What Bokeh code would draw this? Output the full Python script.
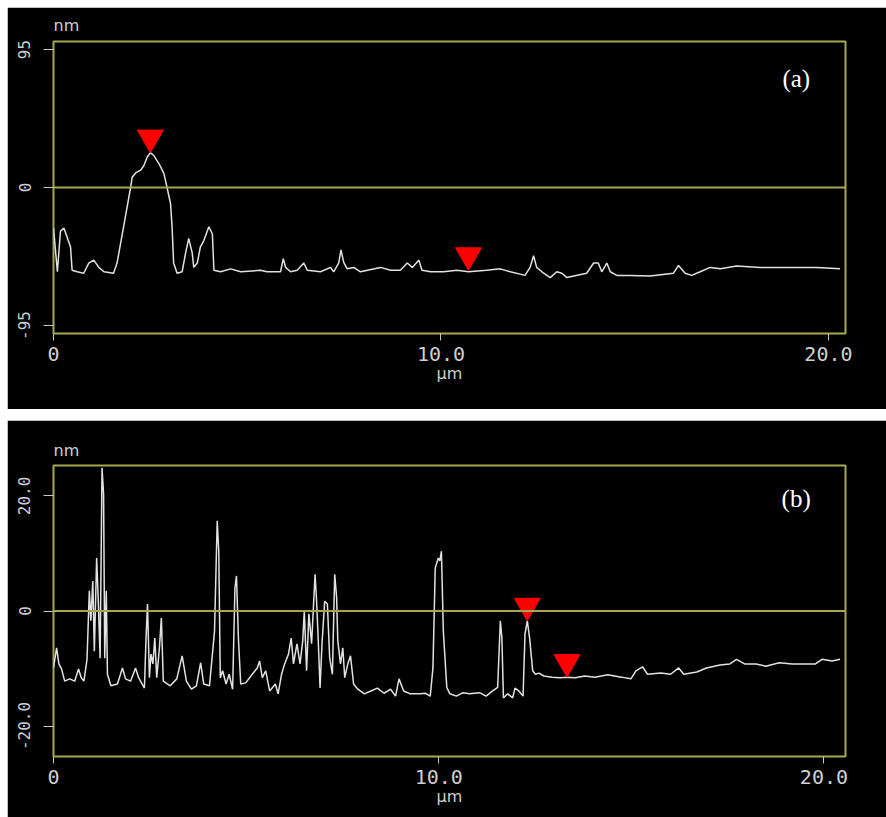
from bokeh.plotting import figure
from bokeh.models import Span, Label, FixedTicker, Range1d
from bokeh.layouts import column
from bokeh.embed import file_html
from bokeh.resources import INLINE

# ---------------- data ----------------
# Panel (a): height profile, x in µm, y in nm
a_x = [0.00, 0.10, 0.18, 0.27, 0.35, 0.44, 0.48, 0.61, 0.78, 0.91,
       1.04, 1.17, 1.30, 1.55, 1.64, 1.81, 1.99, 2.03, 2.12, 2.25,
       2.33, 2.42, 2.50, 2.59, 2.72, 2.85, 2.93, 3.02, 3.06, 3.10,
       3.19, 3.32, 3.41, 3.49, 3.58, 3.62, 3.71, 3.79, 3.88, 4.01,
       4.10, 4.14, 4.31, 4.57, 4.83, 5.34, 5.51, 5.86, 5.93, 5.99,
       6.12, 6.29, 6.46, 6.55, 6.89, 7.15, 7.23, 7.36, 7.42, 7.49,
       7.58, 7.75, 7.92, 8.44, 8.70, 8.95, 9.13, 9.26, 9.43, 9.51,
       9.73, 10.07, 10.41, 10.71, 11.18, 11.53, 11.79, 12.17, 12.30, 12.39,
       12.47, 12.65, 12.82, 12.99, 13.12, 13.25, 13.76, 13.94, 14.06, 14.15,
       14.28, 14.37, 14.54, 14.88, 15.40, 16.00, 16.13, 16.30, 16.47, 16.69,
       16.95, 17.21, 17.63, 18.24, 19.10, 19.70, 20.30]
a_y = [-28, -58, -30, -28, -34, -41, -57, -58, -59, -52,
       -50, -55, -58, -59, -52, -27, 0, 7, 10, 12,
       15, 21, 24, 22, 16.5, 9.6, 0, -11, -27, -52,
       -59, -58, -45, -35, -45, -55, -52, -41, -36.5, -27,
       -32, -57, -58, -56, -58, -57, -58, -58, -49, -55,
       -58, -57, -52, -57, -58, -55, -58, -52, -43, -51.6,
       -56, -55, -58, -55, -57, -57, -52, -55, -50, -57,
       -58, -58, -57, -58, -57, -56, -58, -60.5, -55, -47,
       -55, -59, -62, -58, -59, -62, -59, -52, -52, -58,
       -52, -58, -60.5, -60.5, -61, -59, -53.7, -59, -60.5, -58,
       -55, -56, -54, -55, -55, -55, -56]
a_marker_x = [2.50, 10.71]
a_marker_y = [24, -57]

# Panel (b)
b_x = [0.00, 0.08, 0.14, 0.21, 0.29, 0.42, 0.55, 0.65, 0.72, 0.79,
       0.87, 0.93, 0.97, 1.02, 1.06, 1.12, 1.16, 1.21, 1.26, 1.30,
       1.33, 1.37, 1.40, 1.49, 1.66, 1.79, 1.87, 2.00, 2.13, 2.21,
       2.36, 2.40, 2.44, 2.49, 2.53, 2.58, 2.63, 2.68, 2.75, 2.80,
       2.85, 3.03, 3.20, 3.34, 3.45, 3.58, 3.71, 3.82, 3.90, 4.05,
       4.18, 4.25, 4.29, 4.33, 4.39, 4.48, 4.56, 4.65, 4.71, 4.75,
       4.80, 4.86, 4.99, 5.16, 5.29, 5.35, 5.42, 5.51, 5.61, 5.76,
       5.83, 5.92, 6.00, 6.10, 6.17, 6.23, 6.32, 6.40, 6.47, 6.51,
       6.57, 6.63, 6.70, 6.79, 6.83, 6.87, 6.92, 6.97, 7.04, 7.11,
       7.17, 7.24, 7.30, 7.35, 7.38, 7.45, 7.51, 7.56, 7.64, 7.71,
       7.79, 7.90, 8.07, 8.24, 8.41, 8.58, 8.75, 8.88, 8.97, 9.09,
       9.26, 9.52, 9.65, 9.78, 9.85, 9.91, 9.99, 10.03, 10.07, 10.12,
       10.21, 10.29, 10.46, 10.63, 10.80, 11.06, 11.23, 11.40, 11.53, 11.60,
       11.64, 11.68, 11.79, 11.92, 11.98, 12.08, 12.19, 12.24, 12.30, 12.36,
       12.44, 12.51, 12.60, 12.73, 12.94, 13.15, 13.33, 13.54, 13.79, 14.05,
       14.39, 14.74, 14.99, 15.12, 15.29, 15.42, 15.76, 16.02, 16.23, 16.36,
       16.70, 16.95, 17.30, 17.56, 17.73, 17.94, 18.24, 18.49, 18.84, 19.18,
       19.44, 19.78, 19.95, 20.21, 20.42]
b_y = [-9.9, -6.4, -9.2, -10.1, -12.2, -11.8, -12.2, -10.1, -11.6, -12.2,
       -8.4, 3.5, -1.7, 5.2, -7.0, 9.2, 2.3, -8.2, 24.9, 20.3,
       -8.2, 3.5, -11.0, -13.0, -12.7, -9.9, -11.8, -12.2, -9.9, -11.6,
       -13.4, -5.2, 1.2, -11.6, -7.5, -9.2, -4.7, -11.6, -6.4, -1.2,
       -12.2, -13.0, -11.8, -7.8, -12.2, -13.6, -13.0, -9.0, -12.7, -13.0,
       -3.5, 15.7, 10.4, -11.6, -10.4, -12.7, -11.0, -13.6, 4.0, 6.1,
       -4.7, -12.7, -12.5, -11.0, -9.9, -8.7, -11.6, -10.4, -13.9, -12.7,
       -14.4, -11.0, -9.2, -7.5, -4.7, -9.2, -5.7, -9.2, -5.2, 0.0,
       -10.4, -0.5, -5.7, 6.4, 1.7, -4.7, -13.4, -5.7, 1.7, 1.2,
       -8.2, -11.0, 6.4, 2.3, -5.2, -9.2, -6.4, -11.6, -9.2, -7.8,
       -12.7, -13.6, -14.4, -13.9, -13.4, -14.3, -13.6, -14.8, -11.8, -13.9,
       -14.4, -14.4, -14.3, -14.8, -9.9, 7.5, 9.2, 8.7, 10.4, -3.5,
       -13.3, -14.4, -14.8, -14.2, -14.4, -14.2, -14.8, -13.9, -13.3, -1.7,
       -4.7, -15.1, -14.4, -15.1, -13.4, -13.9, -14.8, -4.0, -1.7, -4.7,
       -10.4, -11.0, -10.8, -11.3, -11.5, -11.6, -11.5, -11.6, -11.3, -11.5,
       -11.1, -11.5, -11.8, -10.4, -9.7, -11.0, -10.8, -11.0, -9.9, -11.0,
       -10.6, -9.9, -9.4, -9.2, -8.4, -9.2, -9.2, -9.6, -9.0, -9.2,
       -9.2, -9.2, -8.4, -8.7, -8.4]
b_marker_x = [12.30, 13.33]
b_marker_y = [-1.7, -11.5]

x_ticks = [0, 10, 20]
x_tick_labels = ["0", "10.0", "20.0"]
a_y_ticks = [-95, 0, 95]
a_y_tick_labels = ["-95", "0", "95"]
b_y_ticks = [-20, 0, 20]
b_y_tick_labels = ["-20.0", "0", "20.0"]

# ---------------- styling ----------------
OLIVE = "#a7a750"
TXT = "#cfcfcf"
LINE = "#e2e2e2"
MARKER_SIZE = 26


def panel(xs, ys, mx, my, x_end, y_half, yticks, ylabels, tag, tag_x, tag_y,
          width, height, left, right, top, bottom, margin, title_standoff):
    p = figure(width=width, height=height, output_backend="svg",
               toolbar_location=None,
               x_range=Range1d(0, x_end), y_range=Range1d(-y_half, y_half),
               background_fill_color="black", border_fill_color="black",
               min_border_left=left, min_border_right=right,
               min_border_top=top, min_border_bottom=bottom,
               title="nm")
    p.margin = margin
    p.grid.visible = False
    p.outline_line_color = OLIVE
    p.outline_line_width = 2

    p.title.align = "left"
    p.title.text_color = TXT
    p.title.text_font = "DejaVu Sans"
    p.title.text_font_size = "16px"
    p.title.text_font_style = "normal"
    p.title.standoff = title_standoff

    xa = p.xaxis[0]
    xa.ticker = FixedTicker(ticks=x_ticks)
    xa.major_label_overrides = {t: l for t, l in zip(x_ticks, x_tick_labels)}
    xa.axis_line_color = None
    xa.major_tick_line_color = "#c8c8c8"
    xa.major_tick_in = 0
    xa.major_tick_out = 7
    xa.minor_tick_line_color = None
    xa.major_label_text_font = "DejaVu Sans Mono"
    xa.major_label_text_font_size = "20px"
    xa.major_label_text_color = TXT
    xa.major_label_standoff = 6
    xa.axis_label = "µm"
    xa.axis_label_text_font = "DejaVu Sans"
    xa.axis_label_text_font_size = "16px"
    xa.axis_label_text_font_style = "normal"
    xa.axis_label_text_color = TXT
    xa.axis_label_standoff = 0

    ya = p.yaxis[0]
    ya.ticker = FixedTicker(ticks=yticks)
    ya.major_label_overrides = {t: l for t, l in zip(yticks, ylabels)}
    ya.axis_line_color = None
    ya.major_tick_line_color = "#c8c8c8"
    ya.major_tick_in = 0
    ya.major_tick_out = 10
    ya.minor_tick_line_color = None
    ya.major_label_orientation = "vertical"
    ya.major_label_text_font = "DejaVu Sans Mono"
    ya.major_label_text_font_size = "16px"
    ya.major_label_text_color = TXT
    ya.major_label_standoff = 13

    p.add_layout(Span(location=0, dimension="width", line_color=OLIVE, line_width=2))
    p.line(xs, ys, line_color=LINE, line_width=1.5)

    # inverted triangles: tip sits on the profile point
    frame_h = height - top - bottom
    px_per_unit = frame_h / (2 * y_half)
    tip = (2.0 / 3.0) * (MARKER_SIZE / 2.0) * (3 ** 0.5) / px_per_unit
    p.scatter(list(mx), [v + tip for v in my], marker="inverted_triangle",
              size=MARKER_SIZE, fill_color="#ff0000", line_color="#ff0000")

    p.add_layout(Label(x=tag_x, y=tag_y, text=tag, text_align="center",
                       text_baseline="middle", text_font="Liberation Serif",
                       text_font_size="25px", text_color="white"))
    return p


pa = panel(a_x, a_y, a_marker_x, a_marker_y, 20.44, 100.5,
           a_y_ticks, a_y_tick_labels, "(a)", 19.17, 75,
           width=879, height=402, left=46, right=41, top=34, bottom=76,
           margin=(7, 0, 0, 7), title_standoff=13)
pb = panel(b_x, b_y, b_marker_x, b_marker_y, 20.56, 25.3,
           b_y_ticks, b_y_tick_labels, "(b)", 19.28, 19.6,
           width=879, height=397, left=45, right=32, top=45, bottom=61,
           margin=(11, 0, 0, 7), title_standoff=12)

layout = column(pa, pb)
layout.margin = 0
open("out.html", "w").write(file_html(layout, INLINE))
